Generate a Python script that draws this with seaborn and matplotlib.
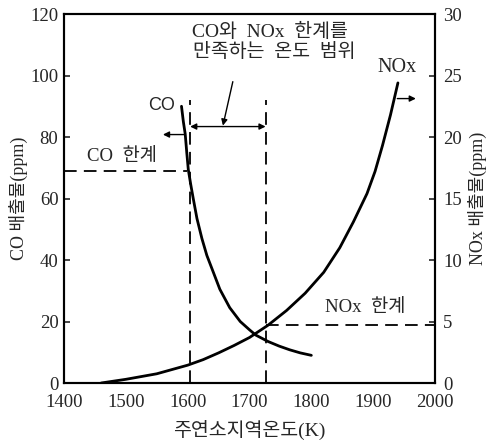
import matplotlib
matplotlib.use("Agg")
import matplotlib.pyplot as plt
import numpy as np
import pandas as pd
import seaborn as sns

# Emission curves versus primary-zone temperature
co_temp = [1590, 1593, 1596, 1598.5, 1601, 1605, 1609, 1615, 1623, 1631, 1640,
           1652, 1668, 1685, 1700, 1710, 1730, 1748, 1765, 1782, 1800]
co_ppm = [90, 85, 81, 75, 69.4, 64.5, 60, 53.5, 47, 41.5, 36.8,
          30.5, 24.5, 20, 17.3, 15.6, 13.5, 12, 10.8, 9.8, 9]

nox_temp = [1460, 1500, 1550, 1600, 1625, 1650, 1675, 1700, 1730, 1760, 1790,
            1820, 1846, 1868, 1890, 1903, 1915, 1928, 1940]
nox_ppm = [0.0, 0.3, 0.75, 1.45, 1.9, 2.45, 3.05, 3.7, 4.7, 5.9, 7.3,
           9.0, 11.0, 13.1, 15.4, 17.2, 19.3, 21.8, 24.4]

# Emission limits and the temperature window that satisfies both
co_limit = 69
nox_limit = 4.7
t_low = 1603
t_high = 1727

x_ticks = [1400, 1500, 1600, 1700, 1800, 1900, 2000]
co_ticks = [0, 20, 40, 60, 80, 100, 120]
nox_ticks = [0, 5, 10, 15, 20, 25, 30]

sns.set_style("white")
SERIF_KR = ["Liberation Serif", "Noto Sans CJK KR"]
plt.rcParams["font.family"] = SERIF_KR
plt.rcParams["axes.unicode_minus"] = False

fig = plt.figure(figsize=(4.89, 4.45), dpi=100)
ax = fig.add_axes([0.1309, 0.1393, 0.7587, 0.8292])
ax2 = ax.twinx()

co_df = pd.DataFrame({"temp": co_temp, "ppm": co_ppm})
nox_df = pd.DataFrame({"temp": nox_temp, "ppm": nox_ppm})

sns.lineplot(data=co_df, x="temp", y="ppm", ax=ax, color="black", lw=2.0)
sns.lineplot(data=nox_df, x="temp", y="ppm", ax=ax2, color="black", lw=2.0)

ax.set_xlim(1400, 2000)
ax.set_ylim(0, 120)
ax2.set_ylim(0, 30)

ax.set_xticks(x_ticks)
ax.set_yticks(co_ticks)
ax2.set_yticks(nox_ticks)
ax.set_xticklabels([str(t) for t in x_ticks])

for a in (ax, ax2):
    for s in a.spines.values():
        s.set_linewidth(1.5)
        s.set_color("black")

ax.tick_params(axis="x", direction="in", length=4, width=1.2, pad=8, labelsize=13.5)
ax.tick_params(axis="y", direction="in", length=4, width=1.2, pad=4, labelsize=13.5)
ax2.tick_params(axis="y", direction="in", length=4, width=1.2, pad=6, labelsize=13.5)

ax.set_xlabel("주연소지역온도(K)", fontsize=14, labelpad=6)
ax.set_ylabel("CO 배출물(ppm)", fontsize=13, labelpad=2)
ax2.set_ylabel("NOx 배출물(ppm)", fontsize=13, labelpad=4)

dash = dict(color="black", lw=1.3, linestyle=(0, (7, 4)))
# limit lines
ax.plot([1400, t_low - 4], [co_limit, co_limit], **dash)
ax2.plot([t_high, 2000], [nox_limit, nox_limit], **dash)
# temperature window boundaries
top_dash = 92
ax.plot([t_low, t_low], [0, top_dash], **dash)
ax.plot([t_high, t_high], [0, top_dash], **dash)

arrow = dict(arrowstyle="-|>", color="black", lw=1.0,
             mutation_scale=9, shrinkA=0, shrinkB=0)

# double-headed arrow across the window
arrow_y = 83.4
mid = (t_low + t_high) / 2 - 8
ax.annotate("", xy=(t_low + 1, arrow_y), xytext=(mid, arrow_y), arrowprops=arrow)
ax.annotate("", xy=(t_high - 1, arrow_y), xytext=(mid, arrow_y), arrowprops=arrow)
# pointer from the caption to the window
ax.annotate("", xy=(1657, arrow_y + 0.3), xytext=(1673, 98), arrowprops=arrow)

# curve direction arrows
ax.annotate("", xy=(1560, 80.8), xytext=(1596, 80.8), arrowprops=arrow)
ax.annotate("", xy=(1969, 92.5), xytext=(1939, 92.5), arrowprops=arrow)

# labels
ax.text(1733, 114.3, "CO와  NOx  한계를", ha="center", va="center", fontsize=14)
ax.text(1740, 107.6, "만족하는  온도  범위", ha="center", va="center", fontsize=14)
ax.text(1558, 90.2, "CO", ha="center", va="center", fontsize=13,
        family=["Liberation Sans", "DejaVu Sans"])
ax.text(1494, 73.6, "CO  한계", ha="center", va="center", fontsize=13.5)
ax.text(1939, 102.6, "NOx", ha="center", va="center", fontsize=14.5)
ax.text(1887, 24.4, "NOx  한계", ha="center", va="center", fontsize=13.5)

fig.savefig("out.png", dpi=100)
